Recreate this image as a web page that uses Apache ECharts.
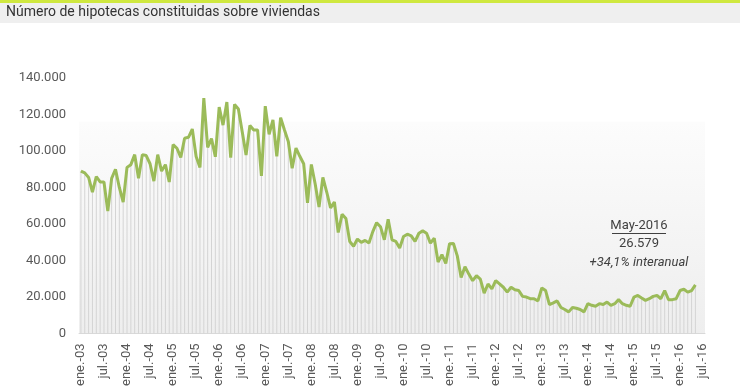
<!DOCTYPE html>
<html>
<head>
<meta charset="utf-8">
<script src="https://cdn.jsdelivr.net/npm/echarts@6/dist/echarts.min.js"></script>
<style>
html,body{margin:0;padding:0;background:#fff;}
#c{width:740px;height:389px;}
</style>
</head>
<body>
<div id="c"></div>
<script>
var monthNames = ["ene.", "feb.", "mar.", "abr.", "may.", "jun.", "jul.", "ago.", "sep.", "oct.", "nov.", "dic."];
var yearLabels = ["03","04","05","06","07","08","09","10","11","12","13","14","15","16"];
var lastMonthIndex2016 = 6; // axis runs to jul.-16

var v2003 = [89000, 88000, 85500, 77500, 86000, 83000, 83000, 67000, 85000, 90000, 80000, 72000];
var v2004 = [91000, 92500, 98000, 85000, 98000, 97500, 93000, 83500, 98000, 89000, 92500, 83000];
var v2005 = [103500, 101500, 96500, 107000, 107500, 112000, 97000, 91000, 129000, 102000, 106800, 96800];
var v2006 = [124000, 114200, 126800, 96300, 125500, 123000, 110500, 97800, 114000, 111500, 111500, 86300];
var v2007 = [124600, 109100, 117000, 97100, 118300, 111500, 105200, 90500, 101600, 97100, 93000, 71500];
var v2008 = [92600, 81900, 69300, 85500, 77500, 68800, 72000, 55300, 65300, 63000, 50400, 47800];
var v2009 = [51700, 49900, 51000, 49500, 55800, 60700, 58500, 51300, 62500, 51300, 50400, 46800];
var v2010 = [53100, 54400, 53500, 50400, 54900, 56200, 54900, 49500, 52200, 39100, 43200, 38400];
var v2011 = [49200, 49300, 42500, 30700, 36500, 32500, 28900, 31600, 29800, 22100, 27100, 24400];
var v2012 = [28900, 27100, 25300, 22600, 25300, 23900, 23500, 20300, 19900, 19000, 19000, 17800];
var v2013 = [24900, 23500, 15800, 16700, 17800, 14200, 13100, 11800, 14200, 13800, 13100, 11800];
var v2014 = [16300, 15400, 14900, 16300, 15800, 17200, 15400, 16300, 18500, 16300, 15400, 14900];
var v2015 = [19900, 20800, 19400, 18100, 19000, 20300, 20800, 19000, 23500, 18500, 18500, 19000];
var v2016 = [23500, 24200, 22600, 23500, 26579];

var yTicks = [0, 20000, 40000, 60000, 80000, 100000, 120000, 140000];

var titleText = "Número de hipotecas constituidas sobre viviendas";
var noteLines = ["May-2016", "26.579", "+34,1% interanual"];

var categories = [];
for (var y = 0; y < yearLabels.length; y++) {
  var mMax = (y === yearLabels.length - 1) ? lastMonthIndex2016 : 11;
  for (var m = 0; m <= mMax; m++) categories.push(monthNames[m] + "-" + yearLabels[y]);
}
var values = [].concat(v2003, v2004, v2005, v2006, v2007, v2008, v2009, v2010, v2011, v2012, v2013, v2014, v2015, v2016);

function fmt(v) { return String(v).replace(/\B(?=(\d{3})+(?!\d))/g, "."); }

var FONT = "Roboto, 'Open Sans', sans-serif";
var chart = echarts.init(document.getElementById('c'), null, {renderer: 'canvas'});
chart.setOption({
  animation: false,
  backgroundColor: '#ffffff',
  grid: {left: 79, right: 35, top: 78, bottom: 50, containLabel: false},
  xAxis: {
    type: 'category',
    data: categories,
    boundaryGap: true,
    axisLine: {show: true, lineStyle: {color: '#d9d9d9', width: 1}},
    axisTick: {show: false},
    axisLabel: {interval: 5, rotate: 90, color: '#595959', fontSize: 13, fontFamily: FONT, margin: 10}
  },
  yAxis: {
    type: 'value',
    min: yTicks[0],
    max: yTicks[yTicks.length - 1],
    interval: yTicks[1] - yTicks[0],
    axisLine: {show: false},
    axisTick: {show: false},
    splitLine: {show: false},
    axisLabel: {color: '#595959', fontSize: 13, fontFamily: FONT, margin: 13, formatter: fmt}
  },
  series: [
    {
      type: 'bar',
      data: values,
      barWidth: 1,
      itemStyle: {color: '#d4d4d4'},
      z: 1,
      silent: true,
      markArea: {
        silent: true,
        z: 0,
        itemStyle: {
          color: new echarts.graphic.LinearGradient(0, 0, 0, 1, [
            {offset: 0, color: '#fcfcfc'},
            {offset: 1, color: '#eeeeee'}
          ])
        },
        data: [[{yAxis: 116000}, {yAxis: 0}]]
      }
    },
    {
      type: 'line',
      data: values,
      symbol: 'none',
      lineStyle: {color: '#9bbb59', width: 3},
      z: 3
    }
  ],
  graphic: [
    {type: 'rect', left: 0, top: 0, shape: {width: 740, height: 3}, style: {fill: '#cfe83f'}, z: 10},
    {type: 'rect', left: 0, top: 3, shape: {width: 740, height: 20}, style: {fill: '#efefef'}, z: 10},
    {type: 'text', left: 6, top: 5, style: {text: titleText, fill: '#333333', font: "14px " + FONT}, z: 11},
    {type: 'text', x: 639, y: 226, style: {text: noteLines[0], fill: '#404040', font: "13px " + FONT, textAlign: 'center', textVerticalAlign: 'middle'}, z: 11},
    {type: 'line', shape: {x1: 612, y1: 233.5, x2: 666, y2: 233.5}, style: {stroke: '#404040', lineWidth: 1}, z: 11},
    {type: 'text', x: 639, y: 244, style: {text: noteLines[1], fill: '#404040', font: "13px " + FONT, textAlign: 'center', textVerticalAlign: 'middle'}, z: 11},
    {type: 'text', x: 639, y: 263, style: {text: noteLines[2], fill: '#404040', font: "italic 13px " + FONT, textAlign: 'center', textVerticalAlign: 'middle'}, z: 11}
  ]
});
</script>
</body>
</html>
